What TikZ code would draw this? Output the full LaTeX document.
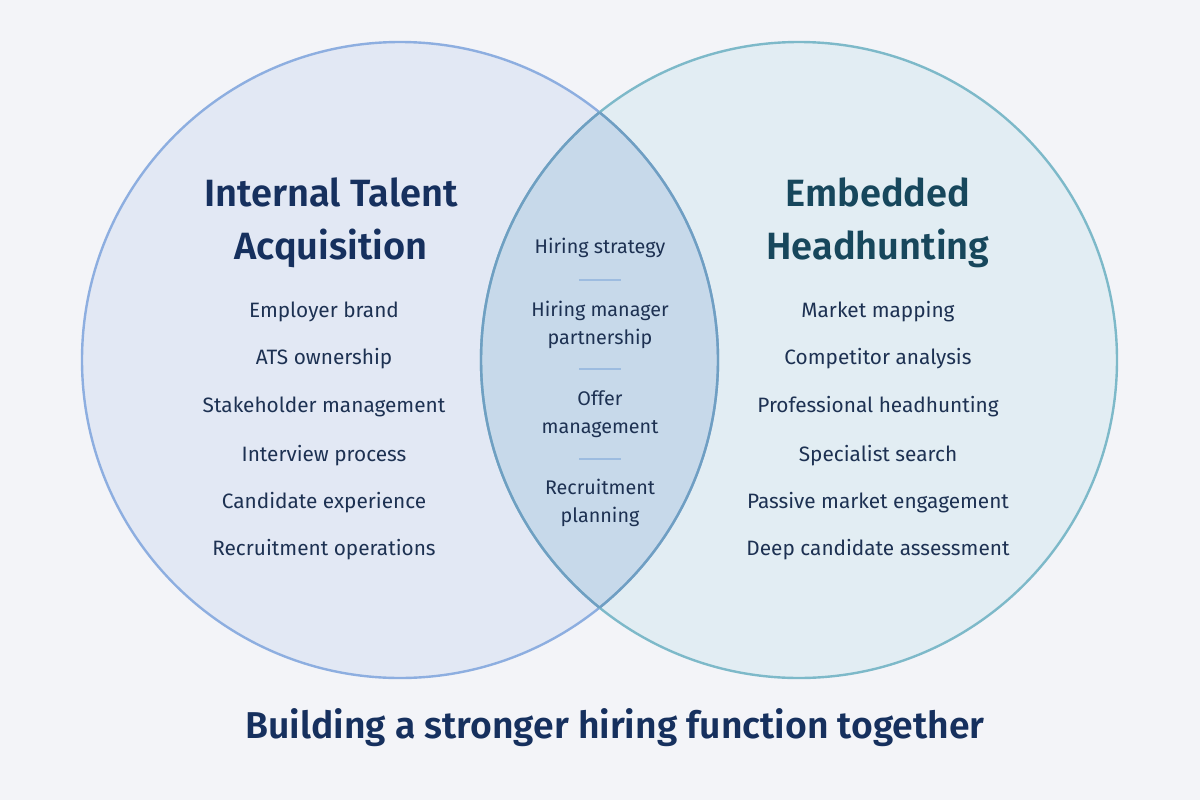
\documentclass[tikz,border=0pt]{standalone}
\usepackage{fontspec}
\setmainfont{Fira Sans}
\newfontfamily\semib{Fira Sans SemiBold}
\usetikzlibrary{calc}
\definecolor{bgc}{HTML}{F3F4F8}
\definecolor{lfill}{HTML}{E2E8F4}
\definecolor{rfill}{HTML}{E2EDF3}
\definecolor{mfill}{HTML}{C7D9EA}
\definecolor{lline}{HTML}{8DAEE0}
\definecolor{rline}{HTML}{7DB9C9}
\definecolor{mline}{HTML}{6F9FC2}
\definecolor{ltitle}{HTML}{16305E}
\definecolor{rtitle}{HTML}{17475C}
\definecolor{itemc}{HTML}{1D3152}
\definecolor{sepc}{HTML}{9DBCE0}
\tikzset{
  ttl/.style={font=\fontsize{28.5}{36}\selectfont\semib, align=center, inner sep=0pt},
  itm/.style={font=\fontsize{15.6}{20}\selectfont, text=itemc, inner sep=0pt},
  mid/.style={font=\fontsize{14.8}{21}\selectfont, text=itemc, align=center, inner sep=0pt},
  sepline/.style={draw=sepc, line width=1.2pt},
}
\begin{document}
\begin{tikzpicture}[x=0.75pt,y=-0.75pt]
\useasboundingbox (0,0) rectangle (1200,800);
\fill[bgc] (0,0) rectangle (1200,800);
% circles
\fill[lfill] (400,360) circle (318);
\fill[rfill] (799,360) circle (318);
\begin{scope}
  \clip (400,360) circle (318);
  \fill[mfill] (799,360) circle (318);
\end{scope}
\draw[lline, line width=1.8pt] (400,360) circle (318);
\draw[rline, line width=1.8pt] (799,360) circle (318);
\begin{scope}
  \clip (400,360) circle (318);
  \draw[mline, line width=1.8pt] (799,360) circle (318);
\end{scope}
\begin{scope}
  \clip (799,360) circle (318);
  \draw[mline, line width=1.8pt] (400,360) circle (318);
\end{scope}
% titles
\node[ttl, text=ltitle] (lt) at (331,223) {Internal Talent\\[4pt]Acquisition};
\node[ttl, text=rtitle] (rt) at (878,223) {Embedded\\[4pt]Headhunting};
% left items
\node[itm] (l1) at (324,312) {Employer brand};
\node[itm] (l2) at (324,359) {ATS ownership};
\node[itm] (l3) at (324,407) {Stakeholder management};
\node[itm] (l4) at (324,456) {Interview process};
\node[itm] (l5) at (324,503) {Candidate experience};
\node[itm] (l6) at (324,550) {Recruitment operations};
% right items
\node[itm] (r1) at (878,312) {Market mapping};
\node[itm] (r2) at (878,359) {Competitor analysis};
\node[itm] (r3) at (878,407) {Professional headhunting};
\node[itm] (r4) at (878,456) {Specialist search};
\node[itm] (r5) at (878,503) {Passive market engagement};
\node[itm] (r6) at (878,550) {Deep candidate assessment};
% middle
\node[mid] (m1) at (600,248) {Hiring strategy};
\node[mid] (m2) at (600,325) {Hiring manager\\partnership};
\node[mid] (m3) at (600,414) {Offer\\management};
\node[mid] (m4) at (600,503) {Recruitment\\planning};
\draw[sepline] (579,280) -- (621,280);
\draw[sepline] (579,369) -- (621,369);
\draw[sepline] (579,459) -- (621,459);
% bottom
\node[font=\fontsize{28}{32}\selectfont\semib, text=ltitle, inner sep=0pt] (bt) at (615,728) {Building a stronger hiring function together};
\end{tikzpicture}
\end{document}
